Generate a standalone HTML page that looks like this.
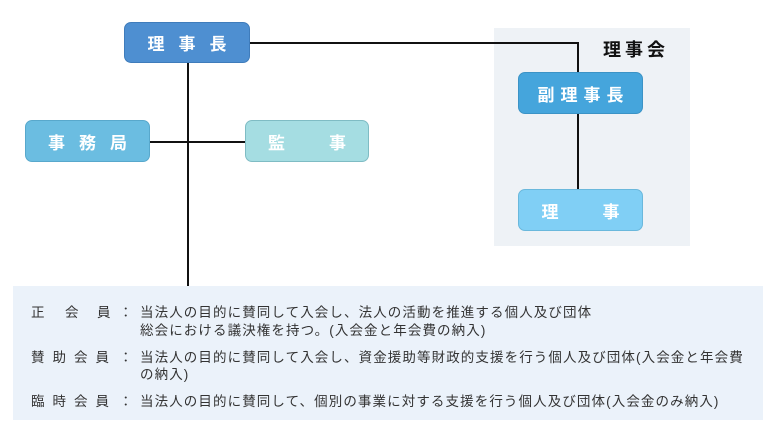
<!DOCTYPE html>
<html><head><meta charset="utf-8"><style>
body{margin:0;width:778px;height:437px;background:#fff;position:relative;overflow:hidden;font-family:"Liberation Sans","Noto Sans CJK JP",sans-serif}
.b{position:absolute;border-radius:7px;color:#fff;font-weight:bold;font-size:17px;display:flex;align-items:center;justify-content:center;box-sizing:border-box;white-space:nowrap}
.l{position:absolute;background:#111}
.t{position:absolute;font-size:13.5px;color:#333;white-space:nowrap;letter-spacing:1.1px}
</style></head><body>
<div style="position:absolute;left:494px;top:28px;width:196px;height:218px;background:#eef2f6"></div>
<div style="position:absolute;left:603px;top:36px;font-size:18px;font-weight:bold;color:#111;letter-spacing:4px;white-space:nowrap">理事会</div>
<div class="l" style="left:187px;top:63px;width:1.5px;height:223px"></div>
<div class="l" style="left:150px;top:141px;width:95px;height:1.5px"></div>
<div class="l" style="left:250px;top:42px;width:328px;height:1.5px"></div>
<div class="l" style="left:577px;top:42px;width:1.5px;height:147px"></div>
<div class="b" style="left:124px;top:22px;width:126px;height:41px;background:#4e8fd1;border:1px solid #3f7cbb;letter-spacing:14px;padding-left:14px">理事長</div>
<div class="b" style="left:25px;top:120px;width:125px;height:42px;background:#6bbde1;border:1px solid #58a8cc;letter-spacing:14px;padding-left:14px">事務局</div>
<div class="b" style="left:245px;top:120px;width:124px;height:42px;background:#a5dde2;border:1px solid #7fbcc4;letter-spacing:44px;padding-left:44px">監事</div>
<div class="b" style="left:518px;top:72px;width:125px;height:42px;background:#45a5dc;border:1px solid #3b93c6;letter-spacing:6px;padding-left:6px">副理事長</div>
<div class="b" style="left:518px;top:189px;width:125px;height:42px;background:#80cff5;border:1px solid #6ab8dc;letter-spacing:44px;padding-left:44px">理事</div>
<div style="position:absolute;left:13px;top:286px;width:750px;height:134px;background:#ebf2fa"></div>
<div class="t" style="left:31px;top:301px">正</div><div class="t" style="left:65px;top:301px">会</div><div class="t" style="left:97px;top:301px">員</div>
<div class="t" style="left:119px;top:301px">：</div>
<div class="t" style="left:140px;top:301px">当法人の目的に賛同して入会し、法人の活動を推進する個人及び団体</div>
<div class="t" style="left:140px;top:319px">総会における議決権を持つ。(入会金と年会費の納入)</div>
<div class="t" style="left:31px;top:346px;letter-spacing:8px">賛助会員</div>
<div class="t" style="left:119px;top:346px">：</div>
<div class="t" style="left:140px;top:346px">当法人の目的に賛同して入会し、資金援助等財政的支援を行う個人及び団体(入会金と年会費</div>
<div class="t" style="left:140px;top:363px">の納入)</div>
<div class="t" style="left:31px;top:390px;letter-spacing:8px">臨時会員</div>
<div class="t" style="left:119px;top:390px">：</div>
<div class="t" style="left:140px;top:390px">当法人の目的に賛同して、個別の事業に対する支援を行う個人及び団体(入会金のみ納入)</div>
</body></html>
